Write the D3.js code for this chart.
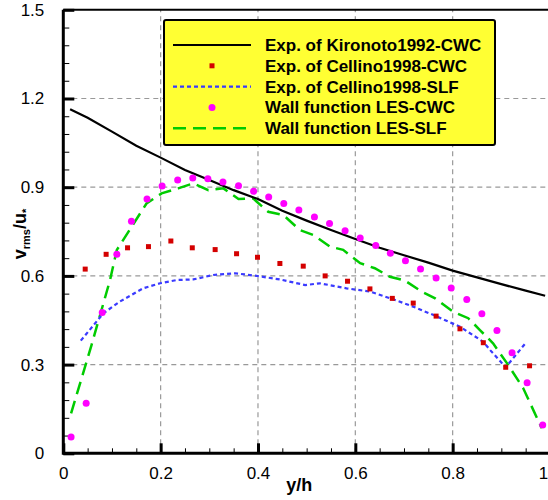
<!DOCTYPE html>
<html>
<head>
<meta charset="utf-8">
<script src="https://cdn.jsdelivr.net/npm/d3@7"></script>
<style>
  body { margin: 0; background: #fff; }
  svg { display: block; font-family: "Liberation Sans", Arial, sans-serif; }
</style>
</head>
<body>
<div id="chart"></div>
<script>
// Exp. of Kironoto1992-CWC (solid black)
var kironotoX = [0.014, 0.05, 0.1, 0.15, 0.2, 0.25, 0.3, 0.35, 0.4, 0.45, 0.5, 0.55, 0.6, 0.65, 0.7, 0.75, 0.8, 0.85, 0.9, 0.95, 0.99];
var kironotoY = [1.164, 1.135, 1.088, 1.04, 1.0, 0.958, 0.924, 0.89, 0.86, 0.82, 0.787, 0.755, 0.725, 0.695, 0.67, 0.645, 0.618, 0.595, 0.572, 0.55, 0.533];

// Exp. of Cellino1998-CWC (red squares)
var cellinoCwcX = [0.045, 0.088, 0.132, 0.175, 0.221, 0.265, 0.312, 0.356, 0.399, 0.445, 0.493, 0.538, 0.584, 0.630, 0.676, 0.719, 0.766, 0.815, 0.863, 0.909, 0.958];
var cellinoCwcY = [0.623, 0.673, 0.695, 0.699, 0.718, 0.695, 0.689, 0.675, 0.663, 0.642, 0.633, 0.600, 0.582, 0.556, 0.524, 0.508, 0.464, 0.421, 0.374, 0.291, 0.296];

// Exp. of Cellino1998-SLF (blue dotted)
var cellinoSlfX = [0.036, 0.082, 0.116, 0.164, 0.199, 0.233, 0.267, 0.308, 0.353, 0.397, 0.445, 0.497, 0.527, 0.582, 0.630, 0.676, 0.719, 0.766, 0.815, 0.863, 0.877, 0.909, 0.952];
var cellinoSlfY = [0.381, 0.473, 0.513, 0.558, 0.575, 0.586, 0.588, 0.603, 0.609, 0.600, 0.588, 0.569, 0.575, 0.558, 0.547, 0.522, 0.496, 0.464, 0.428, 0.377, 0.349, 0.291, 0.377];

// Wall function LES-CWC (magenta dots)
var lesCwcX = [0.016, 0.047, 0.080, 0.110, 0.140, 0.172, 0.203, 0.235, 0.266, 0.297, 0.328, 0.360, 0.391, 0.422, 0.453, 0.484, 0.516, 0.547, 0.579, 0.610, 0.642, 0.672, 0.703, 0.734, 0.766, 0.797, 0.829, 0.860, 0.891, 0.922, 0.953, 0.985];
var lesCwcY = [0.055, 0.169, 0.476, 0.673, 0.785, 0.860, 0.904, 0.924, 0.931, 0.929, 0.918, 0.905, 0.886, 0.867, 0.845, 0.823, 0.799, 0.777, 0.753, 0.728, 0.703, 0.677, 0.651, 0.623, 0.593, 0.559, 0.520, 0.472, 0.415, 0.340, 0.239, 0.096];

// Wall function LES-SLF (green dashed)
var lesSlfX = [0.016, 0.058, 0.096, 0.110, 0.171, 0.202, 0.236, 0.267, 0.298, 0.329, 0.360, 0.390, 0.421, 0.452, 0.486, 0.514, 0.548, 0.575, 0.610, 0.640, 0.671, 0.702, 0.736, 0.764, 0.801, 0.832, 0.856, 0.883, 0.914, 0.945, 0.983];
var lesSlfY = [0.135, 0.366, 0.586, 0.688, 0.845, 0.879, 0.896, 0.913, 0.890, 0.896, 0.860, 0.862, 0.817, 0.806, 0.755, 0.738, 0.699, 0.688, 0.643, 0.626, 0.597, 0.584, 0.547, 0.524, 0.479, 0.457, 0.417, 0.372, 0.299, 0.220, 0.085];

var xTicks = [0, 0.2, 0.4, 0.6, 0.8, 1];
var yTicks = [0, 0.3, 0.6, 0.9, 1.2, 1.5];
var legendLabels = ['Exp. of Kironoto1992-CWC', 'Exp. of Cellino1998-CWC', 'Exp. of Cellino1998-SLF', 'Wall function LES-CWC', 'Wall function LES-SLF'];

var width = 548, height = 500;
var x = d3.scaleLinear().domain([0, 1]).range([63.3, 550]);
var y = d3.scaleLinear().domain([0, 1.5]).range([453.3, 9.8]);

var svg = d3.select('#chart').append('svg')
  .attr('width', width)
  .attr('height', height);

function zip(xs, ys) {
  return xs.map((v, i) => [v, ys[i]]);
}

// grid
var grid = svg.append('g');
grid.selectAll('line.gx')
  .data(xTicks.filter(d => d > 0 && d < 1))
  .enter().append('line')
  .attr('x1', d => x(d)).attr('x2', d => x(d))
  .attr('y1', y(0)).attr('y2', y(1.5))
  .attr('stroke', '#999').attr('stroke-width', 1.2)
  .attr('stroke-dasharray', '5,4');
grid.selectAll('line.gy')
  .data(yTicks.filter(d => d > 0 && d < 1.5))
  .enter().append('line')
  .attr('x1', x(0)).attr('x2', x(1))
  .attr('y1', d => y(d)).attr('y2', d => y(d))
  .attr('stroke', '#999').attr('stroke-width', 1.2)
  .attr('stroke-dasharray', '5,4');

// axes (ticks pointing inwards)
var xAxis = svg.append('g').attr('transform', 'translate(0,' + y(0) + ')');
xAxis.call(d3.axisBottom(x).tickValues(d3.range(0, 1.0001, 0.05)).tickSize(-5).tickFormat(''))
  .call(g => g.select('.domain').remove())
  .call(g => g.selectAll('line').attr('stroke-width', 1));
xAxis.append('g')
  .call(d3.axisBottom(x).tickValues(xTicks).tickSize(-10).tickPadding(14).tickFormat(d => d === 0 ? '0' : d3.format('.1f')(d)))
  .call(g => g.select('.domain').remove())
  .call(g => g.selectAll('line').attr('stroke-width', 3))
  .call(g => g.selectAll('text').attr('font-size', 17).attr('font-family', '"Liberation Sans", Arial, sans-serif').attr('fill', '#000'));

var yAxis = svg.append('g').attr('transform', 'translate(' + x(0) + ',0)');
yAxis.call(d3.axisLeft(y).tickValues(d3.range(0, 1.5001, 0.06)).tickSize(-6).tickFormat(''))
  .call(g => g.select('.domain').remove())
  .call(g => g.selectAll('line').attr('stroke-width', 1));
yAxis.append('g')
  .call(d3.axisLeft(y).tickValues(yTicks).tickSize(-11).tickPadding(19).tickFormat(d => d === 0 ? '0' : d3.format('.1f')(d)))
  .call(g => g.select('.domain').remove())
  .call(g => g.selectAll('line').attr('stroke-width', 3))
  .call(g => g.selectAll('text').attr('font-size', 17).attr('font-family', '"Liberation Sans", Arial, sans-serif').attr('fill', '#000'));

// frame
svg.append('line').attr('x1', x(0)).attr('x2', x(1)).attr('y1', y(0)).attr('y2', y(0)).attr('stroke', '#000').attr('stroke-width', 3);
svg.append('line').attr('x1', x(0)).attr('x2', x(0)).attr('y1', y(0) + 1.5).attr('y2', y(1.5)).attr('stroke', '#000').attr('stroke-width', 3);
svg.append('line').attr('x1', x(0)).attr('x2', x(1)).attr('y1', y(1.5)).attr('y2', y(1.5)).attr('stroke', '#000').attr('stroke-width', 2);

var line = d3.line().x(d => x(d[0])).y(d => y(d[1]));

// series
svg.append('path').datum(zip(lesSlfX, lesSlfY))
  .attr('d', line).attr('fill', 'none')
  .attr('stroke', '#00cc00').attr('stroke-width', 2.5).attr('stroke-dasharray', '13,7');
svg.append('path').datum(zip(cellinoSlfX, cellinoSlfY))
  .attr('d', line).attr('fill', 'none')
  .attr('stroke', '#3a3aff').attr('stroke-width', 2.2).attr('stroke-dasharray', '4,3');
svg.append('path').datum(zip(kironotoX, kironotoY))
  .attr('d', line).attr('fill', 'none')
  .attr('stroke', '#000').attr('stroke-width', 2.2);
svg.append('g').selectAll('rect')
  .data(zip(cellinoCwcX, cellinoCwcY))
  .enter().append('rect')
  .attr('x', d => x(d[0]) - 2.5).attr('y', d => y(d[1]) - 2.5)
  .attr('width', 5).attr('height', 5)
  .attr('fill', '#d40000');
svg.append('g').selectAll('circle')
  .data(zip(lesCwcX, lesCwcY))
  .enter().append('circle')
  .attr('cx', d => x(d[0])).attr('cy', d => y(d[1]))
  .attr('r', 3.5)
  .attr('fill', '#ff00ff');

// legend
var legend = svg.append('g').attr('transform', 'translate(164,20)');
legend.append('rect')
  .attr('width', 331).attr('height', 125).attr('rx', 2)
  .attr('fill', '#ffff33').attr('stroke', '#000').attr('stroke-width', 2);
var rows = legend.selectAll('g.row').data(legendLabels)
  .enter().append('g')
  .attr('transform', (d, i) => 'translate(0,' + (25 + i * 20.8) + ')');
rows.append('text')
  .attr('x', 101).attr('dy', '0.35em')
  .attr('font-size', 17).attr('font-weight', 'bold')
  .text(d => d);
rows.each(function (d, i) {
  var g = d3.select(this);
  if (i === 0) {
    g.append('line').attr('x1', 9).attr('x2', 87).attr('stroke', '#000').attr('stroke-width', 2.2);
  } else if (i === 1) {
    g.append('rect').attr('x', 45.5).attr('y', -2.5).attr('width', 5).attr('height', 5).attr('fill', '#d40000');
  } else if (i === 2) {
    g.append('line').attr('x1', 9).attr('x2', 87).attr('stroke', '#3a3aff').attr('stroke-width', 2.2).attr('stroke-dasharray', '4,3');
  } else if (i === 3) {
    g.append('circle').attr('cx', 48).attr('r', 3.5).attr('fill', '#ff00ff');
  } else {
    g.append('line').attr('x1', 9).attr('x2', 87).attr('stroke', '#00cc00').attr('stroke-width', 2.5).attr('stroke-dasharray', '13,7');
  }
});

// axis titles
svg.append('text')
  .attr('x', x(0.485)).attr('y', 491)
  .attr('text-anchor', 'middle')
  .attr('font-size', 18).attr('font-weight', 'bold')
  .text('y/h');

var yl = svg.append('text')
  .attr('transform', 'translate(26,' + 234 + ') rotate(-90)')
  .attr('text-anchor', 'middle')
  .attr('font-size', 18).attr('font-weight', 'bold');
yl.append('tspan').text('v');
yl.append('tspan').attr('font-size', 11).attr('dy', 4).text('rms');
yl.append('tspan').attr('dy', -4).text('/u');
yl.append('tspan').attr('font-size', 11).attr('dy', 4).text('*');
</script>
</body>
</html>
